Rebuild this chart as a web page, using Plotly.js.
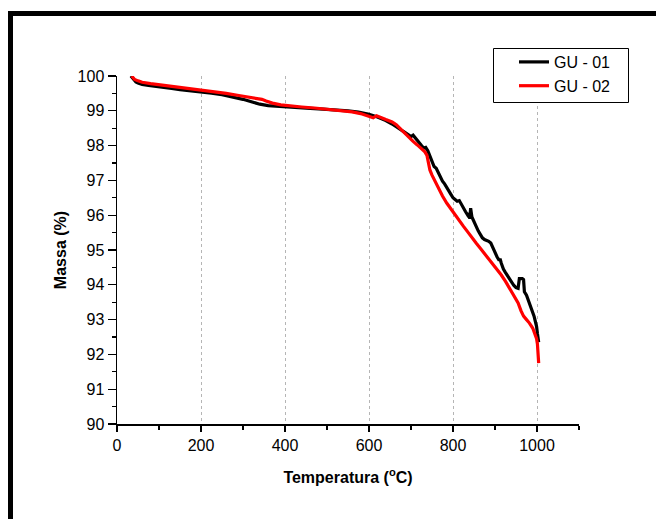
<!DOCTYPE html>
<html>
<head>
<meta charset="utf-8">
<script src="https://cdn.plot.ly/plotly-3.0.1.min.js"></script>
<style>
html,body{margin:0;padding:0;background:#fff;}
#chart{width:656px;height:519px;}
</style>
</head>
<body>
<div id="chart"></div>
<script>
// GU - 01 (black)
var tempGU01 = [33,36,40,45,50,60,75,90,110,130,150,175,200,225,250,275,300,320,340,360,380,400,430,460,490,520,550,575,600,620,640,655,665,672,680,688,695,700,705,710,715,720,725,730,735,740,745,750,755,760,765,770,775,780,785,790,795,800,805,810,815,820,825,830,835,838,840,842,845,850,855,860,865,870,875,880,885,890,895,900,905,910,912,915,920,925,930,935,940,945,950,955,958,965,968,970,975,980,985,990,993,996,999,1001,1003,1004];
var massGU01 = [100.0,99.95,99.88,99.83,99.80,99.76,99.73,99.70,99.67,99.64,99.61,99.58,99.55,99.51,99.46,99.40,99.33,99.26,99.19,99.15,99.13,99.12,99.10,99.07,99.05,99.03,99.00,98.96,98.90,98.82,98.72,98.62,98.55,98.50,98.42,98.36,98.30,98.26,98.30,98.22,98.14,98.05,98.00,97.93,97.95,97.85,97.70,97.52,97.40,97.35,97.22,97.08,96.98,96.90,96.78,96.70,96.60,96.50,96.45,96.40,96.42,96.30,96.20,96.10,96.00,96.05,95.90,96.20,95.95,95.80,95.70,95.55,95.45,95.35,95.30,95.28,95.25,95.20,95.05,94.92,94.80,94.70,94.75,94.62,94.45,94.35,94.25,94.15,94.05,93.98,93.92,93.90,94.18,94.18,94.15,93.80,93.70,93.55,93.40,93.25,93.10,92.95,92.80,92.60,92.40,92.35];

// GU - 02 (red)
var tempGU02 = [35,38,42,50,60,80,100,130,160,200,230,260,290,310,330,345,355,370,390,410,440,470,500,530,560,580,600,610,618,625,640,655,665,675,685,695,705,715,725,733,738,742,745,750,758,765,775,785,795,805,815,825,835,845,855,865,875,885,895,905,915,925,935,945,955,962,968,975,982,990,995,999,1001,1003,1004];
var massGU02 = [100.0,99.95,99.90,99.86,99.82,99.78,99.75,99.71,99.67,99.60,99.55,99.50,99.44,99.40,99.35,99.33,99.28,99.22,99.17,99.14,99.11,99.08,99.05,99.02,98.97,98.92,98.85,98.80,98.86,98.82,98.75,98.68,98.60,98.48,98.35,98.22,98.12,98.02,97.92,97.82,97.72,97.50,97.30,97.15,96.95,96.78,96.55,96.35,96.18,96.00,95.82,95.68,95.52,95.35,95.20,95.05,94.90,94.75,94.60,94.45,94.28,94.10,93.90,93.70,93.48,93.25,93.10,93.00,92.90,92.75,92.60,92.45,92.30,92.00,91.75];

var seriesNames = ['GU - 01', 'GU - 02'];
var xTickVals = [0,200,400,600,800,1000];
var yTickVals = [90,91,92,93,94,95,96,97,98,99,100];

var W = 656, H = 519;
var M = {l:117, r:77, t:76, b:95};
var pw = W - M.l - M.r, ph = H - M.t - M.b;
function px2x(p){ return (p - M.l) / pw; }
function py2y(p){ return (H - M.b - p) / ph; }

var font = 'Arial, "Liberation Sans", sans-serif';

var traces = [
  {x: tempGU01, y: massGU01, name: seriesNames[0], type:'scatter', mode:'lines',
   line:{color:'#000000', width:3.2}},
  {x: tempGU02, y: massGU02, name: seriesNames[1], type:'scatter', mode:'lines',
   line:{color:'#ff0000', width:3.2}}
];

var layout = {
  width: W, height: H,
  margin: {l:M.l, r:M.r, t:M.t, b:M.b, pad:0},
  paper_bgcolor:'#ffffff', plot_bgcolor:'#ffffff',
  font:{family:font, size:16, color:'#000'},
  showlegend:true,
  legend:{x:px2x(514), y:py2y(45), xanchor:'left', yanchor:'top',
    borderwidth:0, bgcolor:'rgba(0,0,0,0)',
    font:{family:font, size:16, color:'#000'}, tracegroupgap:0},
  xaxis:{range:[0,1100], tickmode:'array', tickvals:xTickVals, ticktext:xTickVals.map(String),
    ticks:'outside', ticklen:6, tickwidth:1.3, tickcolor:'#000',
    minor:{dtick:100, tick0:0, ticks:'outside', ticklen:4, tickwidth:1.3, tickcolor:'#000', showgrid:false},
    showline:true, linecolor:'#000', linewidth:1.5, zeroline:false,
    showgrid:true, gridcolor:'#b5b5b5', griddash:'dot', gridwidth:1,
    tickfont:{family:font, size:16, color:'#000'},
    title:{text:'<b>Temperatura (<sup>o</sup>C)</b>', font:{family:font, size:16, color:'#000'}, standoff:19}},
  yaxis:{range:[90,100], tickmode:'array', tickvals:yTickVals, ticktext:yTickVals.map(String),
    ticks:'outside', ticklen:8, tickwidth:1.3, tickcolor:'#000',
    minor:{dtick:0.5, tick0:90, ticks:'outside', ticklen:4, tickwidth:1.3, tickcolor:'#000', showgrid:false},
    showline:true, linecolor:'#000', linewidth:1.5, zeroline:false, showgrid:false,
    tickfont:{family:font, size:16, color:'#000'},
    title:{text:'<b>Massa (%)</b>', font:{family:font, size:16, color:'#000'}, standoff:7}},
  shapes:[
    {type:'line', xref:'paper', yref:'paper', x0:px2x(10.5), x1:px2x(10.5), y0:py2y(11), y1:py2y(H+5), line:{color:'#000', width:5}},
    {type:'line', xref:'paper', yref:'paper', x0:px2x(8), x1:px2x(W+5), y0:py2y(13.5), y1:py2y(13.5), line:{color:'#000', width:5}},
    {type:'rect', xref:'paper', yref:'paper', layer:'above', x0:px2x(493.5), x1:px2x(628.5), y0:py2y(102.5), y1:py2y(48.5),
     fillcolor:'#ffffff', line:{color:'#000', width:1}}
  ]
};

Plotly.newPlot('chart', traces, layout, {displayModeBar:false, staticPlot:true});
</script>
</body>
</html>
